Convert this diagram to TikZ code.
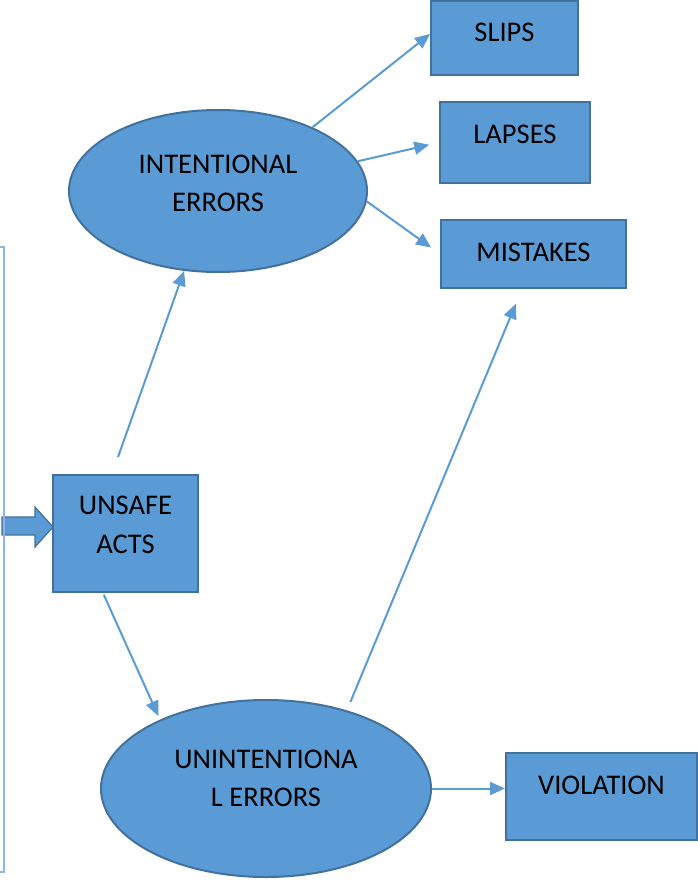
\documentclass[tikz,border=0pt]{standalone}
\usepackage{fontspec}
\setmainfont{Carlito}
\usetikzlibrary{shapes.geometric,arrows.meta}
\definecolor{boxfill}{HTML}{5B9BD5}
\definecolor{boxedge}{HTML}{41719C}
\definecolor{bracketblue}{HTML}{8DB4E2}
\newcommand{\padbelow}[1]{\rule[-#1pt]{0pt}{#1pt}}
\tikzset{every node/.style={font=\fontsize{28.5}{38.5}\selectfont, inner sep=0pt},
  box/.style={draw=boxedge, fill=boxfill, line width=2pt, rectangle},
  topline/.style={text height=41pt, text depth=#1},
  oval/.style={draw=boxedge, fill=boxfill, line width=2pt, ellipse, align=center},
  conn/.style={draw=boxfill, line width=2pt, -{Triangle[length=15pt,width=13pt]}}}

\begin{document}
\begin{tikzpicture}[x=1pt,y=-1pt]
   \useasboundingbox (0,0) rectangle (698,880);

   % right hand boxes
   \node[box, topline=33pt, minimum width=147pt] (slips) at (504.5,38) {SLIPS};
   \node[box, topline=40pt, minimum width=150pt] (lapses) at (515,142.5) {LAPSES};
   \node[box, topline=27pt, minimum width=185pt] (mistakes) at (533.5,254) {MISTAKES};
   \node[box, topline=46pt, minimum width=191pt] (violation) at (601.5,796.5) {VIOLATION};

   % errors
   \node[oval, minimum width=298pt, minimum height=162pt] (interr) at (218,191)
     {INTENTIONAL\\ERRORS\padbelow{15.4}};
   \node[oval, minimum width=330pt, minimum height=177pt] (unint) at (266,788.5)
     {UNINTENTIONA\\L ERRORS\padbelow{20.4}};

   % unsafe acts
   \node[box, align=center, minimum width=145pt, minimum height=117pt] (unsafe) at (125.5,533.5)
     {UNSAFE\\ACTS\padbelow{17.4}};

   \draw[conn, shorten <=18pt] ([xshift=-13.5pt]unsafe.north) -- (interr.-113);
   \draw[conn] (interr.34) -- ([yshift=4pt]slips.west);
   \draw[conn, shorten >=10pt] (interr.12) -- (lapses.west);
   \draw[conn, shorten >=11pt] (interr.-4) -- (mistakes.west);
   \draw[conn, shorten <=2pt, shorten >=4pt] ([xshift=-22.5pt]unsafe.south) -- (unint.147);
   \draw[conn, shorten <=9pt, shorten >=16pt] (unint.44) -- ([xshift=-11.5pt]mistakes.south);
   \draw[conn] (unint.east) -- (unint.east -| violation.west);

   % input arrow and bracket
   \draw[draw=boxedge, fill=boxfill, line width=1.2pt]
     (2,517) -- (35,517) -- (35,507) -- (53,527) -- (35,547) -- (35,535) -- (2,535) -- cycle;
   \draw[bracketblue, line width=1.5pt] (0,247) -- (4,247) -- (4,872) -- (0,872);
\end{tikzpicture}
\end{document}
